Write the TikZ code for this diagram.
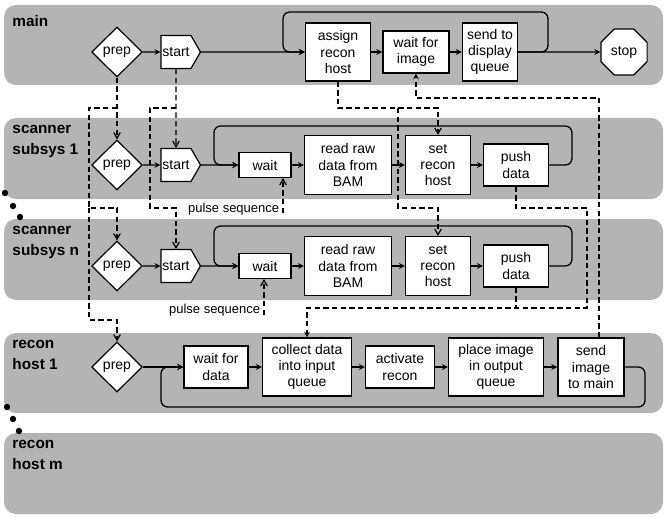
\documentclass[tikz,border=0pt]{standalone}
\usepackage{fontspec}
\setsansfont{Liberation Sans}
\usetikzlibrary{shapes, shapes.geometric, shapes.symbols, arrows}
\usetikzlibrary{positioning}
\tikzset{every picture/.style={/utils/exec={\sffamily}, line width=0.75pt}}
\definecolor{laneGray}{RGB}{180,180,180}

\begin{document}
\begin{tikzpicture}[x=0.75pt,y=0.75pt,yscale=-1,xscale=1]

     \tikzstyle{lane} = [fill = laneGray, rounded corners = 9pt]
     \tikzstyle{lanelbl} = [anchor = north west, align = left, inner sep = 0pt,
						font = \fontsize{11.5}{15.5}\selectfont\bfseries]
     \tikzstyle{box} = [fill = white,
						draw = black,
						line width = 0.9pt,
						inner sep = 2pt,
						align = center,
						font = \fontsize{10.5}{12.2}\selectfont
						]
     \tikzstyle{decision} = [box, diamond, minimum width = 38pt, minimum height = 37.5pt, inner sep = 0pt]
     \tikzstyle{startsig} = [box, signal, signal to = east, signal pointer angle = 120,
						minimum width = 27.75pt, minimum height = 24.75pt, inner sep = 1pt]
     \tikzstyle{stopoct} = [box, regular polygon, regular polygon sides = 8, minimum size = 37.5pt, inner sep = 0pt]
     \tikzstyle{arrow} = [line width = 1pt,->,>=stealth]
     \tikzstyle{dashline} = [line width = 0.9pt, dash pattern = on 4pt off 2.5pt]
     \tikzstyle{dasharrow} = [dashline,->,>=stealth]
     \tikzstyle{dashopen} = [dashline,->,>=angle 60]
     \tikzstyle{pulselbl} = [inner sep = 1pt, font = \fontsize{9.75}{11}\selectfont]

\useasboundingbox (0,0) rectangle (668,517);

% swim lanes
\fill[lane] (4,5) rectangle (663,85);
\fill[lane] (4,118) rectangle (663,199);
\fill[lane] (4,219) rectangle (663,300);
\fill[lane] (4,333) rectangle (663,413);
\fill[lane] (4,433) rectangle (663,514);

\node[lanelbl] (mainLbl) at (12,15) {main};
\node[lanelbl] (scanLbl1) at (12,125) {scanner\\subsys 1};
\node[lanelbl] (scanLblN) at (12,226) {scanner\\subsys n};
\node[lanelbl] (reconLbl1) at (12,340) {recon\\host 1};
\node[lanelbl] (reconLblM) at (12,440) {recon\\host m};

% dots
\fill (5,193) circle (3.2);
\fill (13,206) circle (3.2);
\fill (20,217) circle (3.2);
\fill (7,407) circle (3.2);
\fill (13,419) circle (3.2);
\fill (19,431) circle (3.2);

% main
\node [decision] (prepM) at (117,52) {prep};
\node [startsig, on grid, right = 44.25pt of prepM] (startM) {start};
\node [box, on grid, right = 121.5pt of startM, minimum width = 48.75pt, minimum height = 43.5pt] (assign) {assign\\recon\\host};
\node [box, on grid, right = 58.5pt of assign, minimum width = 49.5pt, minimum height = 31.5pt] (waitImg) {wait for\\image};
\node [box, on grid, right = 55.5pt of waitImg, minimum width = 41.25pt, minimum height = 43.5pt] (sendDisp) {send to\\display\\queue};
\node [stopoct, on grid, right = 100.5pt of sendDisp] (stopM) {stop};
\draw[arrow] (prepM) -- (startM);
\draw[arrow] (startM) -- (assign);
\draw[arrow] (assign) -- (waitImg);
\draw[arrow] (waitImg) -- (sendDisp);
\draw[arrow] (sendDisp) -- (stopM);
\draw[arrow, rounded corners = 5pt] (sendDisp.east) -| (548,12) -| (283,52) -- (assign.west);

% scanner subsys 1
\node [decision] (prepS1) at (117,165) {prep};
\node [startsig, on grid, right = 44.25pt of prepS1] (startS1) {start};
\node [box, on grid, right = 66.75pt of startS1, minimum width = 39pt, minimum height = 18.75pt] (waitS1) {wait};
\node [box, on grid, right = 62.25pt of waitS1, minimum width = 65.25pt, minimum height = 44.25pt] (readS1) {read raw\\data from\\BAM};
\node [box, on grid, right = 67.5pt of readS1, minimum width = 48.75pt, minimum height = 44.25pt] (setS1) {set\\recon\\host};
\node [box, on grid, right = 58.5pt of setS1, minimum width = 48.75pt, minimum height = 31.5pt] (pushS1) {push\\data};
\draw[arrow] (prepS1) -- (startS1);
\draw[arrow] (startS1) -- (waitS1);
\draw[arrow] (waitS1) -- (readS1);
\draw[arrow] (readS1) -- (setS1);
\draw[arrow] (setS1) -- (pushS1);
\draw[arrow, rounded corners = 5pt] (pushS1.east) -| (572,126) -| (214,165) -- (waitS1.west);

% scanner subsys n
\node [decision] (prepSn) at (117,266) {prep};
\node [startsig, on grid, right = 44.25pt of prepSn] (startSn) {start};
\node [box, on grid, right = 66.75pt of startSn, minimum width = 39pt, minimum height = 18.75pt] (waitSn) {wait};
\node [box, on grid, right = 62.25pt of waitSn, minimum width = 65.25pt, minimum height = 44.25pt] (readSn) {read raw\\data from\\BAM};
\node [box, on grid, right = 67.5pt of readSn, minimum width = 48.75pt, minimum height = 44.25pt] (setSn) {set\\recon\\host};
\node [box, on grid, right = 58.5pt of setSn, minimum width = 48.75pt, minimum height = 31.5pt] (pushSn) {push\\data};
\draw[arrow] (prepSn) -- (startSn);
\draw[arrow] (startSn) -- (waitSn);
\draw[arrow] (waitSn) -- (readSn);
\draw[arrow] (readSn) -- (setSn);
\draw[arrow] (setSn) -- (pushSn);
\draw[arrow, rounded corners = 5pt] (pushSn.east) -| (572,226) -| (214,266) -- (waitSn.west);

% recon host 1
\node [decision] (prepR) at (117,367) {prep};
\node [box, on grid, right = 74.25pt of prepR, minimum width = 48pt, minimum height = 31.5pt] (waitData) {wait for\\data};
\node [box, on grid, right = 68.25pt of waitData, minimum width = 66.75pt, minimum height = 43.5pt] (collect) {collect data\\into input\\queue};
\node [box, on grid, right = 69.75pt of collect, minimum width = 51.75pt, minimum height = 31.5pt] (activate) {activate\\recon};
\node [box, on grid, right = 72pt of activate, minimum width = 71.25pt, minimum height = 43.5pt] (place) {place image\\in output\\queue};
\node [box, on grid, right = 71.25pt of place, minimum width = 49.5pt, minimum height = 43.5pt] (sendMain) {send\\image\\to main};
\draw[arrow] (prepR) -- (waitData);
\draw[arrow] (waitData) -- (collect);
\draw[arrow] (collect) -- (activate);
\draw[arrow] (activate) -- (place);
\draw[arrow] (place) -- (sendMain);
\draw[arrow, rounded corners = 5pt] (sendMain.east) -| (645,407) -| (161,367) -- (waitData.west);

% pulse sequences
\coordinate (pulse1) at (283,213);
\node [pulselbl, anchor = east] (pulseTxt1) at (281,209) {pulse sequence};
\coordinate (pulseN) at (264,315);
\node [pulselbl, anchor = east] (pulseTxtN) at (262,310) {pulse sequence};
\draw[dashopen] (pulse1) -- (pulse1 |- waitS1.south);
\draw[dashopen] (pulseN) -- (pulseN |- waitSn.south);

% control flow between lanes
\coordinate (chanA) at (0,108);
\coordinate (chanB) at (0,208);
\coordinate (chanC) at (0,308);
\coordinate (chanD) at (0,320);
\coordinate (chanE) at (0,98);
\draw[dashopen] (prepM) -- (prepS1);
\draw[dashopen] (prepM.south |- chanA) -| (89,208) -| (prepSn.north);
\draw[dashopen] (89,208) |- (prepR.north |- chanD) -- (prepR.north);
\draw[dashopen] (startM) -- (startS1);
\draw[dashopen] (startM.south |- chanA) -| (150,208) -| (startSn.north);
\draw[dashopen] (assign.south) |- (setS1.north |- chanA) -- (setS1.north);
\draw[dashopen] (398,108) |- (setSn.north |- chanB) -- (setSn.north);
\draw[dasharrow] (pushS1.south) |- (587,208) |- (collect.north |- chanC) -- (collect.north);
\draw[dashline] (pushSn.south) -- (pushSn.south |- chanC);
\draw[dasharrow] ([xshift=6pt]sendMain.north) |- (waitImg.south |- chanE) -- (waitImg.south);

\end{tikzpicture}
\end{document}
